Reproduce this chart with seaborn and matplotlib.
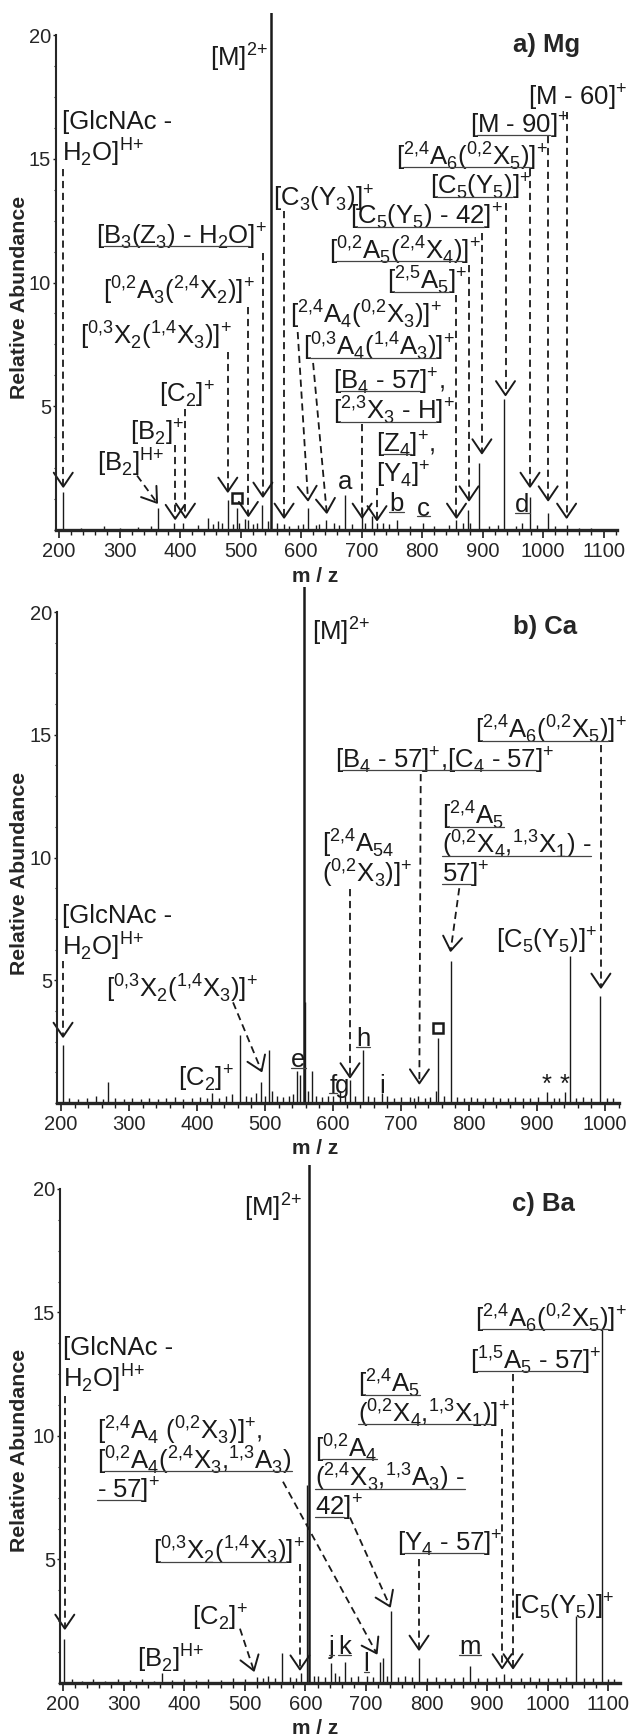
import re
import numpy as np
import matplotlib
matplotlib.use("Agg")
import matplotlib.pyplot as plt
import seaborn as sns
from matplotlib.lines import Line2D
from matplotlib.ticker import MultipleLocator, FixedLocator

# ---- spectra: m/z and relative abundance ----
mg_mz = [206, 237, 275, 300, 330, 352, 364, 390, 405, 430, 447, 455, 463, 470, 479,
         487, 494, 498, 507, 513, 520, 528, 535, 545, 550, 560, 572, 580, 595, 604,
         612, 625, 630, 642, 655, 663, 673, 685, 701, 705, 717, 726, 735, 745, 758,
         780, 802, 820, 845, 857, 868, 875.5, 880, 894, 910, 925, 936, 955, 966, 978.5,
         990, 1008, 1020, 1039, 1060, 1080]
mg_int = [1.55, 0.1, 0.15, 0.1, 0.12, 0.15, 0.9, 0.3, 0.3, 0.2, 0.5, 0.25, 0.35, 0.3, 1.2,
          0.25, 0.9, 0.3, 0.45, 0.4, 0.25, 0.3, 1.0, 0.35, 100, 0.3, 0.25, 0.15, 0.2, 0.25,
          0.9, 0.2, 0.25, 0.4, 0.3, 0.2, 1.4, 0.25, 0.9, 0.3, 0.55, 0.3, 0.3, 0.25, 0.4,
          0.15, 0.3, 0.15, 0.2, 0.4, 0.3, 0.8, 0.3, 2.7, 0.15, 0.2, 5.3, 0.15, 0.3, 1.35,
          0.2, 0.7, 0.15, 0.2, 0.1, 0.1]

ca_mz = [203, 212, 225, 238, 251, 262, 269, 280, 292, 305, 318, 330, 342, 355, 368,
         380, 392, 405, 414, 422, 433, 443, 452, 463, 472, 480, 487, 494, 500, 506,
         510, 518, 527, 535, 541, 547, 551.5, 557, 559, 563, 568.6, 575, 584, 592, 600,
         610, 617, 625, 633, 644.6, 652, 660, 671.6, 680, 690, 700, 713, 719, 725, 735,
         743, 751.5, 755, 763, 773, 782, 792, 803, 812, 823, 835, 846, 857, 868, 879,
         890, 901, 914.7, 925, 933, 941, 948.5, 958, 968, 980, 992.6, 1003, 1012]
ca_int = [2.35, 0.2, 0.15, 0.2, 0.3, 0.15, 0.85, 0.2, 0.15, 0.2, 0.15, 0.2, 0.15, 0.2, 0.25,
          0.15, 0.2, 0.25, 0.2, 0.4, 0.2, 0.3, 0.35, 2.75, 0.3, 0.25, 0.4, 0.85, 0.3, 2.15,
          0.5, 0.3, 0.25, 0.3, 0.35, 1.3, 1.15, 100, 4.1, 0.5, 1.3, 0.3, 0.25, 0.3, 0.3,
          0.5, 0.3, 0.95, 0.3, 2.15, 0.3, 0.25, 0.4, 0.3, 0.2, 0.25, 0.25, 0.2, 0.3, 0.2,
          0.25, 0.5, 2.65, 0.3, 5.8, 0.25, 0.2, 0.25, 0.2, 0.2, 0.25, 0.2, 0.2, 0.25, 0.2,
          0.2, 0.25, 0.45, 0.2, 0.2, 0.45, 6.0, 0.2, 0.25, 0.2, 4.35, 0.2, 0.2]

ba_mz = [202, 215, 232, 250, 270, 290, 310, 330, 350, 363, 380, 400, 420, 440, 460,
         480, 500, 519.6, 530, 538, 550, 561, 575, 585, 593, 602, 606, 614, 621, 632,
         643, 648, 656, 665, 675, 686, 701, 712, 723, 727.5, 735, 742, 752, 765, 776,
         787.5, 800, 815, 830, 845, 860, 871.6, 885, 900, 915, 927.7, 940, 955, 970, 985,
         1000, 1015, 1030, 1046.5, 1060, 1075, 1089, 1100, 1110]
ba_int = [1.8, 0.15, 0.1, 0.15, 0.1, 0.15, 0.12, 0.15, 0.1, 0.4, 0.12, 0.15, 0.12, 0.15, 0.12,
          0.2, 0.15, 0.25, 0.2, 0.3, 0.2, 1.2, 0.25, 0.2, 0.4, 8.0, 100, 0.3, 0.3, 0.25,
          0.8, 0.4, 0.3, 0.85, 0.25, 0.3, 0.3, 0.25, 0.85, 1.0, 0.3, 2.9, 0.25, 0.3, 0.25,
          1.0, 0.2, 0.25, 0.2, 0.2, 0.25, 0.7, 0.2, 0.2, 0.25, 0.35, 0.2, 0.2, 0.25, 0.2,
          0.2, 0.2, 0.25, 2.7, 0.2, 0.2, 14.3, 0.15, 0.15]

# ---- peak labels: (lines, x, y of first line, ha, underline) ----
mg_labels = [
    ('[M]^{2+}', 545.5, 19.15, 'right', False),
    (['[GlcNAc -', 'H_{2}O]^{H+}'], 205, 16.5, 'left', False),
    ('[B_{3}(Z_{3}) - H_{2}O]^{+}', 544, 11.9, 'right', True),
    ('[C_{3}(Y_{3})]^{+}', 553.7, 13.45, 'left', False),
    ('[^{0,2}A_{3}(^{2,4}X_{2})]^{+}', 524, 9.7, 'right', False),
    ('[^{0,3}X_{2}(^{1,4}X_{3})]^{+}', 486, 7.9, 'right', False),
    ('[C_{2}]^{+}', 458, 5.5, 'right', False),
    ('[B_{2}]^{+}', 408, 4.0, 'right', False),
    ('[B_{2}]^{H+}', 375, 2.75, 'right', False),
    ('[M - 60]^{+}', 975, 17.5, 'left', False),
    ('[M - 90]^{+}', 879, 16.4, 'left', True),
    ('[^{2,4}A_{6}(^{0,2}X_{5})]^{+}', 757, 15.15, 'left', True),
    ('[C_{5}(Y_{5})]^{+}', 813, 13.9, 'left', True),
    ('[C_{5}(Y_{5}) - 42]^{+}', 681, 12.7, 'left', True),
    ('[^{0,2}A_{5}(^{2,4}X_{4})]^{+}', 646, 11.35, 'left', True),
    ('[^{2,5}A_{5}]^{+}', 742, 10.1, 'left', True),
    ('[^{2,4}A_{4}(^{0,2}X_{3})]^{+}', 582, 8.75, 'left', False),
    ('[^{0,3}A_{4}(^{1,4}A_{3})]^{+}', 603, 7.45, 'left', True),
    (['[B_{4} - 57]^{+},', '[^{2,3}X_{3} - H]^{+}'], 653, 6.05, 'left', True),
    (['[Z_{4}]^{+},', '[Y_{4}]^{+}'], 724, 3.5, 'left', [True, False]),
    ('a', 673, 1.95, 'center', False),
    ('b', 758, 1.05, 'center', True),
    ('c', 802, 0.85, 'center', True),
    ('d', 966, 1.0, 'center', True),
]
mg_arrows = [(207, 14.6, 207, 1.75), (537, 11.2, 537, 1.35), (572, 12.9, 572, 0.5),
             (513, 9.0, 513, 0.57), (479, 7.2, 479, 1.55), (409, 4.9, 409, 0.5),
             (392, 3.45, 392, 0.45), (329, 2.2, 362, 1.1), (1039, 16.9, 1039, 0.5),
             (1008.5, 15.9, 1008.5, 1.2), (978.5, 14.6, 978.5, 1.75), (938, 13.2, 938, 5.45),
             (899, 12.0, 899, 3.1), (877.7, 10.7, 877.7, 1.2), (857, 9.5, 857, 0.5),
             (594.5, 8.0, 611.6, 1.2), (620, 6.75, 642.5, 0.7), (701, 4.3, 701, 0.5),
             (725.6, 1.7, 725.6, 0.4)]

ca_labels = [
    ('[M]^{2+}', 569, 19.25, 'left', False),
    ('[^{2,4}A_{6}(^{0,2}X_{5})]^{+}', 809, 15.25, 'left', True),
    ('[B_{4} - 57]^{+},[C_{4} - 57]^{+}', 603, 14.0, 'left', True),
    (['[^{2,4}A_{5}', '(^{0,2}X_{4},^{1,3}X_{1}) -', '57]^{+}'], 760, 11.75, 'left', True),
    (['[^{2,4}A_{54}', '(^{0,2}X_{3})]^{+}'], 584, 10.6, 'left', False),
    ('[C_{5}(Y_{5})]^{+}', 988, 6.65, 'right', False),
    (['[GlcNAc -', 'H_{2}O]^{H+}'], 201.5, 7.6, 'left', False),
    ('[^{0,3}X_{2}(^{1,4}X_{3})]^{+}', 266, 4.7, 'left', False),
    ('[C_{2}]^{+}', 372, 1.05, 'left', False),
    ('e', 549, 1.75, 'center', True),
    ('f', 600, 0.7, 'center', True),
    ('g', 614, 0.7, 'center', False),
    ('h', 644, 2.6, 'center', True),
    ('i', 672, 0.7, 'center', False),
    ('*', 914.7, 0.75, 'center', False),
    ('*', 941, 0.75, 'center', False),
]
ca_arrows = [(994, 14.6, 994, 4.7), (729, 13.4, 727, 0.8), (785.7, 8.75, 773, 6.2),
             (625, 8.7, 625, 1.05), (203, 5.8, 203, 2.7), (453, 4.1, 495, 1.3)]

ba_labels = [
    ('[M]^{2+}', 594, 19.3, 'right', False),
    (['[GlcNAc -', 'H_{2}O]^{H+}'], 200, 13.55, 'left', False),
    ('[^{2,4}A_{6}(^{0,2}X_{5})]^{+}', 880, 14.8, 'left', True),
    ('[^{1,5}A_{5} - 57]^{+}', 871.6, 13.1, 'left', True),
    (['[^{2,4}A_{5}', '(^{0,2}X_{4},^{1,3}X_{1})]^{+}'], 687, 12.15, 'left', True),
    (['[^{0,2}A_{4}', '(^{2,4}X_{3},^{1,3}A_{3}) -', '42]^{+}'], 616, 9.55, 'left', True),
    (['[^{2,4}A_{4} (^{0,2}X_{3})]^{+},', '[^{0,2}A_{4}(^{2,4}X_{3},^{1,3}A_{3})', '- 57]^{+}'],
     256, 10.25, 'left', [False, True, True]),
    ('[^{0,3}X_{2}(^{1,4}X_{3})]^{+}', 599, 5.4, 'right', True),
    ('[C_{2}]^{+}', 413, 2.7, 'left', False),
    ('[B_{2}]^{H+}', 322, 1.05, 'left', False),
    ('[Y_{4} - 57]^{+}', 751, 5.7, 'left', True),
    ('[C_{5}(Y_{5})]^{+}', 942.6, 3.15, 'left', False),
    ('j', 643, 1.45, 'center', True),
    ('k', 665, 1.45, 'center', True),
    ('l', 701, 0.75, 'center', True),
    ('m', 871.6, 1.45, 'center', True),
]
ba_arrows = [(203, 11.6, 203, 2.2), (942.6, 12.5, 942.6, 0.6), (924.6, 10.3, 924.6, 0.6),
             (673.6, 6.7, 739.6, 3.1), (563, 8.15, 717.6, 1.2), (591, 4.8, 591, 0.55),
             (492, 2.2, 515, 0.5), (787.5, 5.0, 787.5, 1.35)]

# ---- style ----
sns.set_theme(style="ticks")
plt.rcParams['font.family'] = ['Liberation Sans', 'DejaVu Sans']
plt.rcParams['mathtext.fontset'] = 'custom'
plt.rcParams['mathtext.rm'] = 'Liberation Sans'
ANN = 18.5
DY = 1.2


def tex(s):
    # ^{..} -> superscript, _{..} -> subscript; keep commas and plus signs unspaced
    s = re.sub(r'\^\{([^}]*)\}',
               lambda m: r'$^{\mathregular{' + m.group(1).replace(',', '{,}').replace('+', '{+}') + '}}$', s)
    s = re.sub(r'_\{([^}]*)\}', lambda m: r'$_{\mathregular{' + m.group(1) + '}}$', s)
    return s


W, H = 631, 1734
fig = plt.figure(figsize=(W / 100, H / 100), dpi=100)

panels = [
    dict(mz=mg_mz, inten=mg_int, box=(56, 617, 13, 530), xlim=(195, 1122.3), ylim=(0, 20.89),
         xmax=1100, title='a) Mg', title_xy=(1006.6, 19.6), ylab_y=297,
         labels=mg_labels, arrows=mg_arrows, squares=[(494, 1.3)]),
    dict(mz=ca_mz, inten=ca_int, box=(57, 619, 587, 1103), xlim=(194.1, 1020.6), ylim=(0, 21.02),
         xmax=1000, title='b) Ca', title_xy=(911.8, 19.4), ylab_y=873,
         labels=ca_labels, arrows=ca_arrows, squares=[(755, 3.05)]),
    dict(mz=ba_mz, inten=ba_int, box=(60, 620, 1165, 1683), xlim=(195.05, 1119.1), ylim=(0, 20.97),
         xmax=1100, title='c) Ba', title_xy=(992, 19.4), ylab_y=1450,
         labels=ba_labels, arrows=ba_arrows, squares=[]),
]

ul_jobs = []
for p in panels:
    l, r, t, b = p['box']
    ax = fig.add_axes([l / W, 1 - b / H, (r - l) / W, (b - t) / H])
    lws = [1.8 if v > 50 else 1.0 for v in p['inten']]
    ax.vlines(p['mz'], 0, p['inten'], color='k', lw=lws)
    ax.set_xlim(*p['xlim'])
    ax.set_ylim(*p['ylim'])
    sns.despine(ax=ax)
    ax.spines['left'].set_bounds(0, 20)
    ax.spines['left'].set_linewidth(1.5)
    ax.spines['bottom'].set_linewidth(2.4)
    ax.set_xticks(list(range(200, p['xmax'] + 1, 100)))
    ax.xaxis.set_minor_locator(MultipleLocator(20))
    ax.set_yticks([5, 10, 15, 20])
    ax.yaxis.set_minor_locator(FixedLocator(np.arange(0, 20.01, 1.25)))
    ax.tick_params(axis='x', which='major', direction='out', length=6, width=1.2,
                   labelsize=14.5, pad=2.5, color='k')
    ax.tick_params(axis='x', which='minor', direction='out', length=3.5, width=1.0, color='k')
    ax.tick_params(axis='y', which='major', direction='out', length=2.5, width=1.0,
                   labelsize=14.5, pad=1, color='k')
    ax.tick_params(axis='y', which='minor', direction='out', length=1.5, width=0.8, color='k')
    ax.set_xlabel('m / z', fontsize=15, fontweight='bold', labelpad=0)
    ax.xaxis.set_label_coords((315 - l) / (r - l), -(46 / (b - t)))
    ax.xaxis.label.set_verticalalignment('center')
    fig.text(20 / W, 1 - p['ylab_y'] / H, 'Relative Abundance', rotation=90, fontsize=15.3,
             fontweight='bold', ha='center', va='center')
    ax.text(*p['title_xy'], p['title'], fontsize=18.5, fontweight='bold', ha='center', va='center')

    for (x, y) in p['squares']:
        ax.plot([x], [y], marker='s', ms=7, mfc='white', mec='k', mew=1.8, ls='none', clip_on=False)

    for lines, x, y, ha, ul in p['labels']:
        if isinstance(lines, str):
            lines = [lines]
        if not isinstance(ul, list):
            ul = [ul] * len(lines)
        for i, s in enumerate(lines):
            txt = ax.text(x, y - i * DY, tex(s), fontsize=ANN, ha=ha, va='center', color='k')
            if ul[i]:
                ul_jobs.append((ax, txt, s))

    # dashed leader lines with open heads
    for (x0, y0, x1, y1) in p['arrows']:
        ax.plot([x0, x1], [y0, y1], color='k', lw=1.3, ls=(0, (4, 2.6)), clip_on=False)
        p0 = ax.transData.transform((x0, y0))
        p1 = ax.transData.transform((x1, y1))
        d = (p1 - p0) / np.hypot(*(p1 - p0))
        n = np.array([-d[1], d[0]])
        pts = np.array([p1 - 14 * d + 9.5 * n, p1, p1 - 14 * d - 9.5 * n])
        dp = ax.transData.inverted().transform(pts)
        ax.plot(dp[:, 0], dp[:, 1], color='k', lw=1.4, clip_on=False)

# underlines under the labelled fragments
fig.canvas.draw()
rend = fig.canvas.get_renderer()
inv = fig.transFigure.inverted()


def text_w(ax, s):
    tt = ax.text(0, 0, tex(s), fontsize=ANN)
    w = tt.get_window_extent(rend).width
    tt.remove()
    return w


for ax, txt, raw in ul_jobs:
    bb = txt.get_window_extent(rend)
    x0 = bb.x0 + (text_w(ax, '[') if raw.startswith('[') else 0)
    x1 = bb.x0 + text_w(ax, raw[:raw.rindex(']')]) if ']' in raw else bb.x1
    yy = bb.y0 + 4.5
    (fx0, fy), (fx1, _) = inv.transform([(x0, yy), (x1, yy)])
    fig.add_artist(Line2D([fx0, fx1], [fy, fy], color='#444444', lw=0.9))

fig.savefig('out.png', dpi=100)
